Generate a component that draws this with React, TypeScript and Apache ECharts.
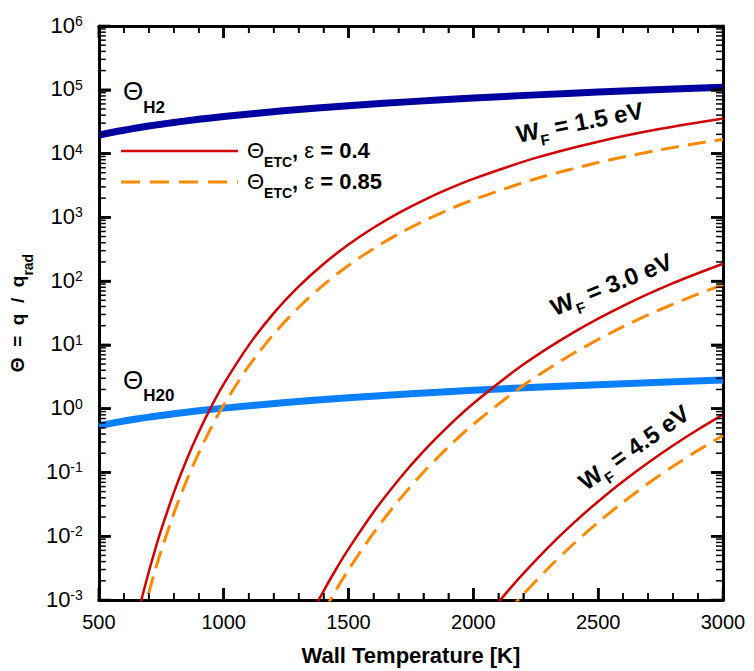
import React, { useEffect, useRef } from 'react';
import * as echarts from 'echarts';

// ---- data ----
const temps_theta = [500, 550, 600, 650, 700, 750, 800, 900, 1000, 1250, 1500, 1750, 2000, 2250, 2500, 2750, 3000];
const theta_H2 = [1.95e4, 2.14e4, 2.32e4, 2.51e4, 2.7e4, 2.88e4, 3.07e4, 3.44e4, 3.8e4, 4.72e4, 5.62e4, 6.52e4, 7.41e4, 8.32e4, 9.2e4, 1.01e5, 1.096e5];
const theta_H2O = [0.54, 0.589, 0.639, 0.687, 0.736, 0.78, 0.833, 0.929, 1.02, 1.25, 1.48, 1.71, 1.94, 2.16, 2.38, 2.6, 2.82];

const temps_WF15 = [600, 625, 650, 675, 700, 725, 750, 800, 850, 900, 950, 1000, 1100, 1200, 1300, 1400, 1500, 1600, 1700, 1800, 1900, 2000, 2250, 2500, 2750, 3000];
const etc_WF15_eps04 = [5.88e-5, 1.73e-4, 4.69e-4, 1.176e-3, 2.75e-3, 6.07e-3, 1.266e-2, 4.77e-2, 0.153, 0.427, 1.067, 2.42, 9.83, 31.2, 81.9, 185.7, 374.4, 686, 1164, 1851, 2790, 4017, 8544, 15350, 24410, 35530];
const etc_WF15_eps085 = [2.77e-5, 8.14e-5, 2.21e-4, 5.53e-4, 1.294e-3, 2.86e-3, 5.96e-3, 2.245e-2, 7.2e-2, 0.201, 0.502, 1.139, 4.63, 14.68, 38.5, 87.4, 176.2, 322.8, 548, 871, 1313, 1890, 4021, 7224, 11490, 16720];

const temps_WF30 = [1300, 1350, 1400, 1450, 1500, 1600, 1700, 1800, 1900, 2000, 2200, 2400, 2600, 2800, 3000];
const etc_WF30_eps04 = [2.346e-4, 5.88e-4, 1.377e-3, 3.034e-3, 6.326e-3, 2.385e-2, 7.634e-2, 0.2137, 0.5333, 1.209, 4.914, 15.6, 40.96, 92.84, 187.2];
const etc_WF30_eps085 = [1.104e-4, 2.767e-4, 6.48e-4, 1.428e-3, 2.977e-3, 1.122e-2, 3.592e-2, 0.1006, 0.251, 0.569, 2.312, 7.34, 19.28, 43.69, 88.1];

const temps_WF45 = [2000, 2050, 2100, 2150, 2200, 2300, 2400, 2500, 2600, 2700, 2800, 2900, 3000];
const etc_WF45_eps04 = [2.909e-4, 5.242e-4, 9.18e-4, 1.565e-3, 2.599e-3, 6.697e-3, 1.59e-2, 3.511e-2, 7.272e-2, 0.1424, 0.2651, 0.4719, 0.8065];
const etc_WF45_eps085 = [1.369e-4, 2.467e-4, 4.32e-4, 7.36e-4, 1.223e-3, 3.152e-3, 7.48e-3, 1.652e-2, 3.422e-2, 6.7e-2, 0.1248, 0.2221, 0.3795];

// ---- axis tick values ----
const X_MIN = 500;
const X_MAX = 3000;
const Y_MIN = 1e-3;
const Y_MAX = 1e6;
const xMajorTicks = [500, 1000, 1500, 2000, 2500, 3000];
const xMinorStep = 100;
const decadeExponents = [-3, -2, -1, 0, 1, 2, 3, 4, 5, 6];
const minorMultipliers = [2, 3, 4, 5, 6, 7, 8, 9];

// ---- layout ----
const W = 754;
const H = 671;
const GRID = { left: 96, right: 31, top: 26, bottom: 69 };
const PLOT_W = W - GRID.left - GRID.right;
const PLOT_H = H - GRID.top - GRID.bottom;
const MAJOR_LEN = 12;
const MINOR_LEN = 7;

const FONT = '"Liberation Sans", Arial, Helvetica, sans-serif';
const RED = '#D00000';
const ORANGE = '#FF8A00';
const DARKBLUE = '#0000A0';
const LIGHTBLUE = '#0A80FF';

const zip = (xs: number[], ys: number[]) => xs.map((x, i) => [x, ys[i]]);

export default function App() {
  const ref = useRef<HTMLDivElement>(null);

  useEffect(() => {
    const chart = echarts.init(ref.current!, null, { renderer: 'svg' });

    // tick lengths expressed in axis units (pixels -> data via the plot size)
    const kPerPx = (X_MAX - X_MIN) / PLOT_W;
    const decadesPerPx = Math.log10(Y_MAX / Y_MIN) / PLOT_H;
    const xLen = (px: number) => px * kPerPx;
    const yFac = (px: number) => Math.pow(10, px * decadesPerPx);

    const yMajor: number[] = decadeExponents.map((e) => Math.pow(10, e));
    const yMinor: number[] = [];
    decadeExponents.slice(0, -1).forEach((e) => minorMultipliers.forEach((m) => yMinor.push(m * Math.pow(10, e))));
    const xMinor: number[] = [];
    for (let t = X_MIN + xMinorStep; t < X_MAX; t += xMinorStep) if (t % 500 !== 0) xMinor.push(t);

    const tickSeries = (pts: number[][], width: number) => ({
      type: 'line', data: pts, symbol: 'none', showSymbol: false, clip: false, silent: true, z: 6,
      lineStyle: { color: '#000', width, cap: 'butt' }, emphasis: { disabled: true },
    });
    const ticks: any[] = [];
    yMajor.forEach((v) => {
      ticks.push(tickSeries([[X_MIN, v], [X_MIN + xLen(MAJOR_LEN), v]], 2.5));
      ticks.push(tickSeries([[X_MAX - xLen(MAJOR_LEN), v], [X_MAX, v]], 2.5));
    });
    yMinor.forEach((v) => {
      ticks.push(tickSeries([[X_MIN, v], [X_MIN + xLen(MINOR_LEN), v]], 1.5));
      ticks.push(tickSeries([[X_MAX - xLen(MINOR_LEN), v], [X_MAX, v]], 1.5));
    });
    xMajorTicks.forEach((t) => {
      ticks.push(tickSeries([[t, Y_MIN], [t, Y_MIN * yFac(MAJOR_LEN)]], 2.5));
      ticks.push(tickSeries([[t, Y_MAX / yFac(MAJOR_LEN)], [t, Y_MAX]], 2.5));
    });
    xMinor.forEach((t) => {
      ticks.push(tickSeries([[t, Y_MIN], [t, Y_MIN * yFac(MINOR_LEN)]], 1.5));
      ticks.push(tickSeries([[t, Y_MAX / yFac(MINOR_LEN)], [t, Y_MAX]], 1.5));
    });

    const xAxisCommon: any = {
      type: 'value', min: X_MIN, max: X_MAX, interval: 500,
      axisLine: { show: true, onZero: false, lineStyle: { color: '#000', width: 3 } },
      axisTick: { show: true, inside: true, length: MAJOR_LEN, lineStyle: { color: '#000', width: 2.5 } },
      minorTick: { show: true, splitNumber: 5, length: MINOR_LEN, lineStyle: { color: '#000', width: 1.5 } },
      splitLine: { show: false },
      minorSplitLine: { show: false },
    };
    const yAxisCommon: any = {
      type: 'log', logBase: 10, min: Y_MIN, max: Y_MAX,
      axisLine: { show: true, onZero: false, lineStyle: { color: '#000', width: 3 } },
      axisTick: { show: true, inside: true, length: MAJOR_LEN, lineStyle: { color: '#000', width: 2.5 } },
      splitLine: { show: false },
    };

    const lineSeries = (data: number[][], color: string, width: number, dashed = false, z = 3) => ({
      type: 'line', data, symbol: 'none', showSymbol: false, smooth: 0.3, clip: true, z,
      lineStyle: dashed ? { color, width, type: [18, 9] as any } : { color, width },
      emphasis: { disabled: true }, silent: true,
    });

    const wfRich = {
      w: { fontSize: 24, fontWeight: 'bold', fontFamily: FONT, fill: '#000', lineHeight: 28, verticalAlign: 'top' },
      f: { fontSize: 15, fontWeight: 'bold', fontFamily: FONT, fill: '#000', lineHeight: 16, padding: [15, 0, 0, 0], verticalAlign: 'top' },
    };
    const wfLabel = (txt: string, x: number, y: number, deg: number) => ({
      type: 'text', x, y, z: 10,
      rotation: (deg * Math.PI) / 180,
      style: { text: `{w|W}{f|F}{w| = ${txt} eV}`, rich: wfRich, align: 'center', verticalAlign: 'middle' },
    });
    const thetaRich = (sub: number) => ({
      t: { fontSize: 26, fontFamily: FONT, fill: '#000', lineHeight: 26, verticalAlign: 'top' },
      s: { fontSize: 17, fontWeight: 'bold', fontFamily: FONT, fill: '#000', lineHeight: 17, padding: [sub, 0, 0, 0], verticalAlign: 'top' },
    });
    const legendRich = {
      t: { fontSize: 22, fontFamily: FONT, fill: '#000', lineHeight: 24, verticalAlign: 'top' },
      s: { fontSize: 14, fontWeight: 'bold', fontFamily: FONT, fill: '#000', lineHeight: 14, padding: [16, 0, 0, 0], verticalAlign: 'top' },
      c: { fontSize: 22, fontWeight: 'bold', fontFamily: FONT, fill: '#000', lineHeight: 24, verticalAlign: 'top' },
      e: { fontSize: 22, fontFamily: FONT, fill: '#000', lineHeight: 24, verticalAlign: 'top' },
      n: { fontSize: 22, fontWeight: 'bold', fontFamily: FONT, fill: '#000', lineHeight: 24, verticalAlign: 'top' },
    };

    chart.setOption({
      animation: false,
      backgroundColor: '#fff',
      grid: { ...GRID },
      xAxis: [
        {
          ...xAxisCommon, position: 'bottom',
          axisLabel: { color: '#000', fontSize: 20, fontFamily: FONT, margin: 12, formatter: (v: number) => String(v) },
          name: 'Wall Temperature [K]', nameLocation: 'middle', nameGap: 44,
          nameTextStyle: { fontSize: 22, fontWeight: 'bold', color: '#000', fontFamily: FONT },
        },
        { ...xAxisCommon, position: 'top', axisLabel: { show: false } },
      ],
      yAxis: [
        {
          ...yAxisCommon, position: 'left',
          axisLabel: {
            margin: 16,
            formatter: (v: number) => `{b|10}{s|${Math.round(Math.log10(v))}}`,
            rich: {
              b: { fontSize: 22, fontFamily: FONT, color: '#000', lineHeight: 24, verticalAlign: 'top' },
              s: { fontSize: 14, fontFamily: FONT, color: '#000', lineHeight: 14, verticalAlign: 'top' },
            },
          },
          name: '{b|Θ  =  q  /  q}{s|rad}', nameLocation: 'middle', nameRotate: 90, nameGap: 64,
          nameTextStyle: {
            fontSize: 19, fontWeight: 'bold', fontFamily: FONT, color: '#000',
            rich: {
              b: { fontSize: 19, fontWeight: 'bold', fontFamily: FONT, color: '#000', lineHeight: 22, verticalAlign: 'top' },
              s: { fontSize: 14, fontWeight: 'bold', fontFamily: FONT, color: '#000', lineHeight: 14, padding: [13, 0, 0, 0], verticalAlign: 'top' },
            },
          },
        },
        { ...yAxisCommon, position: 'right', axisLabel: { show: false } },
      ],
      series: [
        lineSeries(zip(temps_theta, theta_H2), DARKBLUE, 7, false, 2),
        lineSeries(zip(temps_theta, theta_H2O), LIGHTBLUE, 7, false, 2),
        lineSeries(zip(temps_WF15, etc_WF15_eps04), RED, 2.5),
        lineSeries(zip(temps_WF15, etc_WF15_eps085), ORANGE, 3, true),
        lineSeries(zip(temps_WF30, etc_WF30_eps04), RED, 2.5),
        lineSeries(zip(temps_WF30, etc_WF30_eps085), ORANGE, 3, true),
        lineSeries(zip(temps_WF45, etc_WF45_eps04), RED, 2.5),
        lineSeries(zip(temps_WF45, etc_WF45_eps085), ORANGE, 3, true),
        ...ticks,
      ],
      graphic: [
        { type: 'line', z: 10, shape: { x1: 121, y1: 151, x2: 238, y2: 151 }, style: { stroke: RED, lineWidth: 2.5 } },
        { type: 'line', z: 10, shape: { x1: 121, y1: 182, x2: 238, y2: 182 }, style: { stroke: ORANGE, lineWidth: 3, lineDash: [19, 10] } },
        { type: 'text', z: 10, x: 247, y: 139, style: { text: '{t|Θ}{s|ETC}{c|, }{e|ε}{n| = 0.4}', rich: legendRich, align: 'left', verticalAlign: 'top' } },
        { type: 'text', z: 10, x: 247, y: 170, style: { text: '{t|Θ}{s|ETC}{c|, }{e|ε}{n| = 0.85}', rich: legendRich, align: 'left', verticalAlign: 'top' } },
        { type: 'text', z: 10, x: 123, y: 78, style: { text: '{t|Θ}{s|H2}', rich: thetaRich(21), align: 'left', verticalAlign: 'top' } },
        { type: 'text', z: 10, x: 123, y: 367, style: { text: '{t|Θ}{s|H20}', rich: thetaRich(20), align: 'left', verticalAlign: 'top' } },
        wfLabel('1.5', 580, 124, 11),
        wfLabel('3.0', 612, 286, 22),
        wfLabel('4.5', 635, 449, 35),
      ],
    } as any);

    return () => chart.dispose();
  }, []);

  return <div ref={ref} style={{ position: 'absolute', left: 0, top: 0, width: W, height: H }} />;
}
